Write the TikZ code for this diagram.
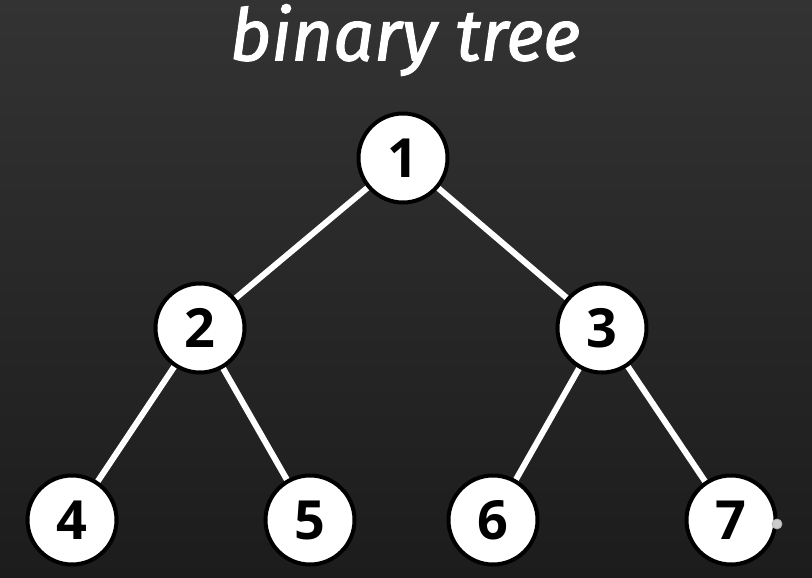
\documentclass[tikz,border=0pt]{standalone}
\usepackage{fontspec}
\setmainfont{Open Sans}
\newfontfamily\titlefont{Fira Sans}[ItalicFeatures={FakeBold=1.6}]
\pgfdeclarelayer{bg}
\pgfdeclarelayer{edges}
\pgfsetlayers{bg,edges,main}
\begin{document}
\begin{tikzpicture}[x=1pt,y=-1pt,
  treenode/.style={circle,draw=black,line width=4pt,fill=white,minimum size=89pt,inner sep=0pt,
    font=\bfseries\fontsize{54}{54}\selectfont,text=black},
  edge/.style={draw=white,line width=6pt}]
\begin{pgfonlayer}{bg}
\shade[top color=black!80,bottom color=black!89] (0,0) rectangle (812,578);
\end{pgfonlayer}
\useasboundingbox (0,0) rectangle (812,578);
\node[text=white,font=\titlefont\itshape\fontsize{72}{72}\selectfont] (title) at (405,40) {binary tree};
\node[treenode] (n1) at (403,158) {1};
\node[treenode] (n2) at (200,328) {2};
\node[treenode] (n3) at (602,328) {3};
\node[treenode] (n4) at (72,520) {4};
\node[treenode] (n5) at (310,520) {5};
\node[treenode] (n6) at (493,520) {6};
\node[treenode] (n7) at (731,520) {7};
\begin{pgfonlayer}{edges}
\draw[edge] (n1) -- (n2);
\draw[edge] (n1) -- (n3);
\draw[edge] (n2) -- (n4);
\draw[edge] (n2) -- (n5);
\draw[edge] (n3) -- (n6);
\draw[edge] (n3) -- (n7);
\end{pgfonlayer}
\draw[gray!60,fill=gray!40,line width=0.8pt] (777,524) circle (5);
\end{tikzpicture}
\end{document}
